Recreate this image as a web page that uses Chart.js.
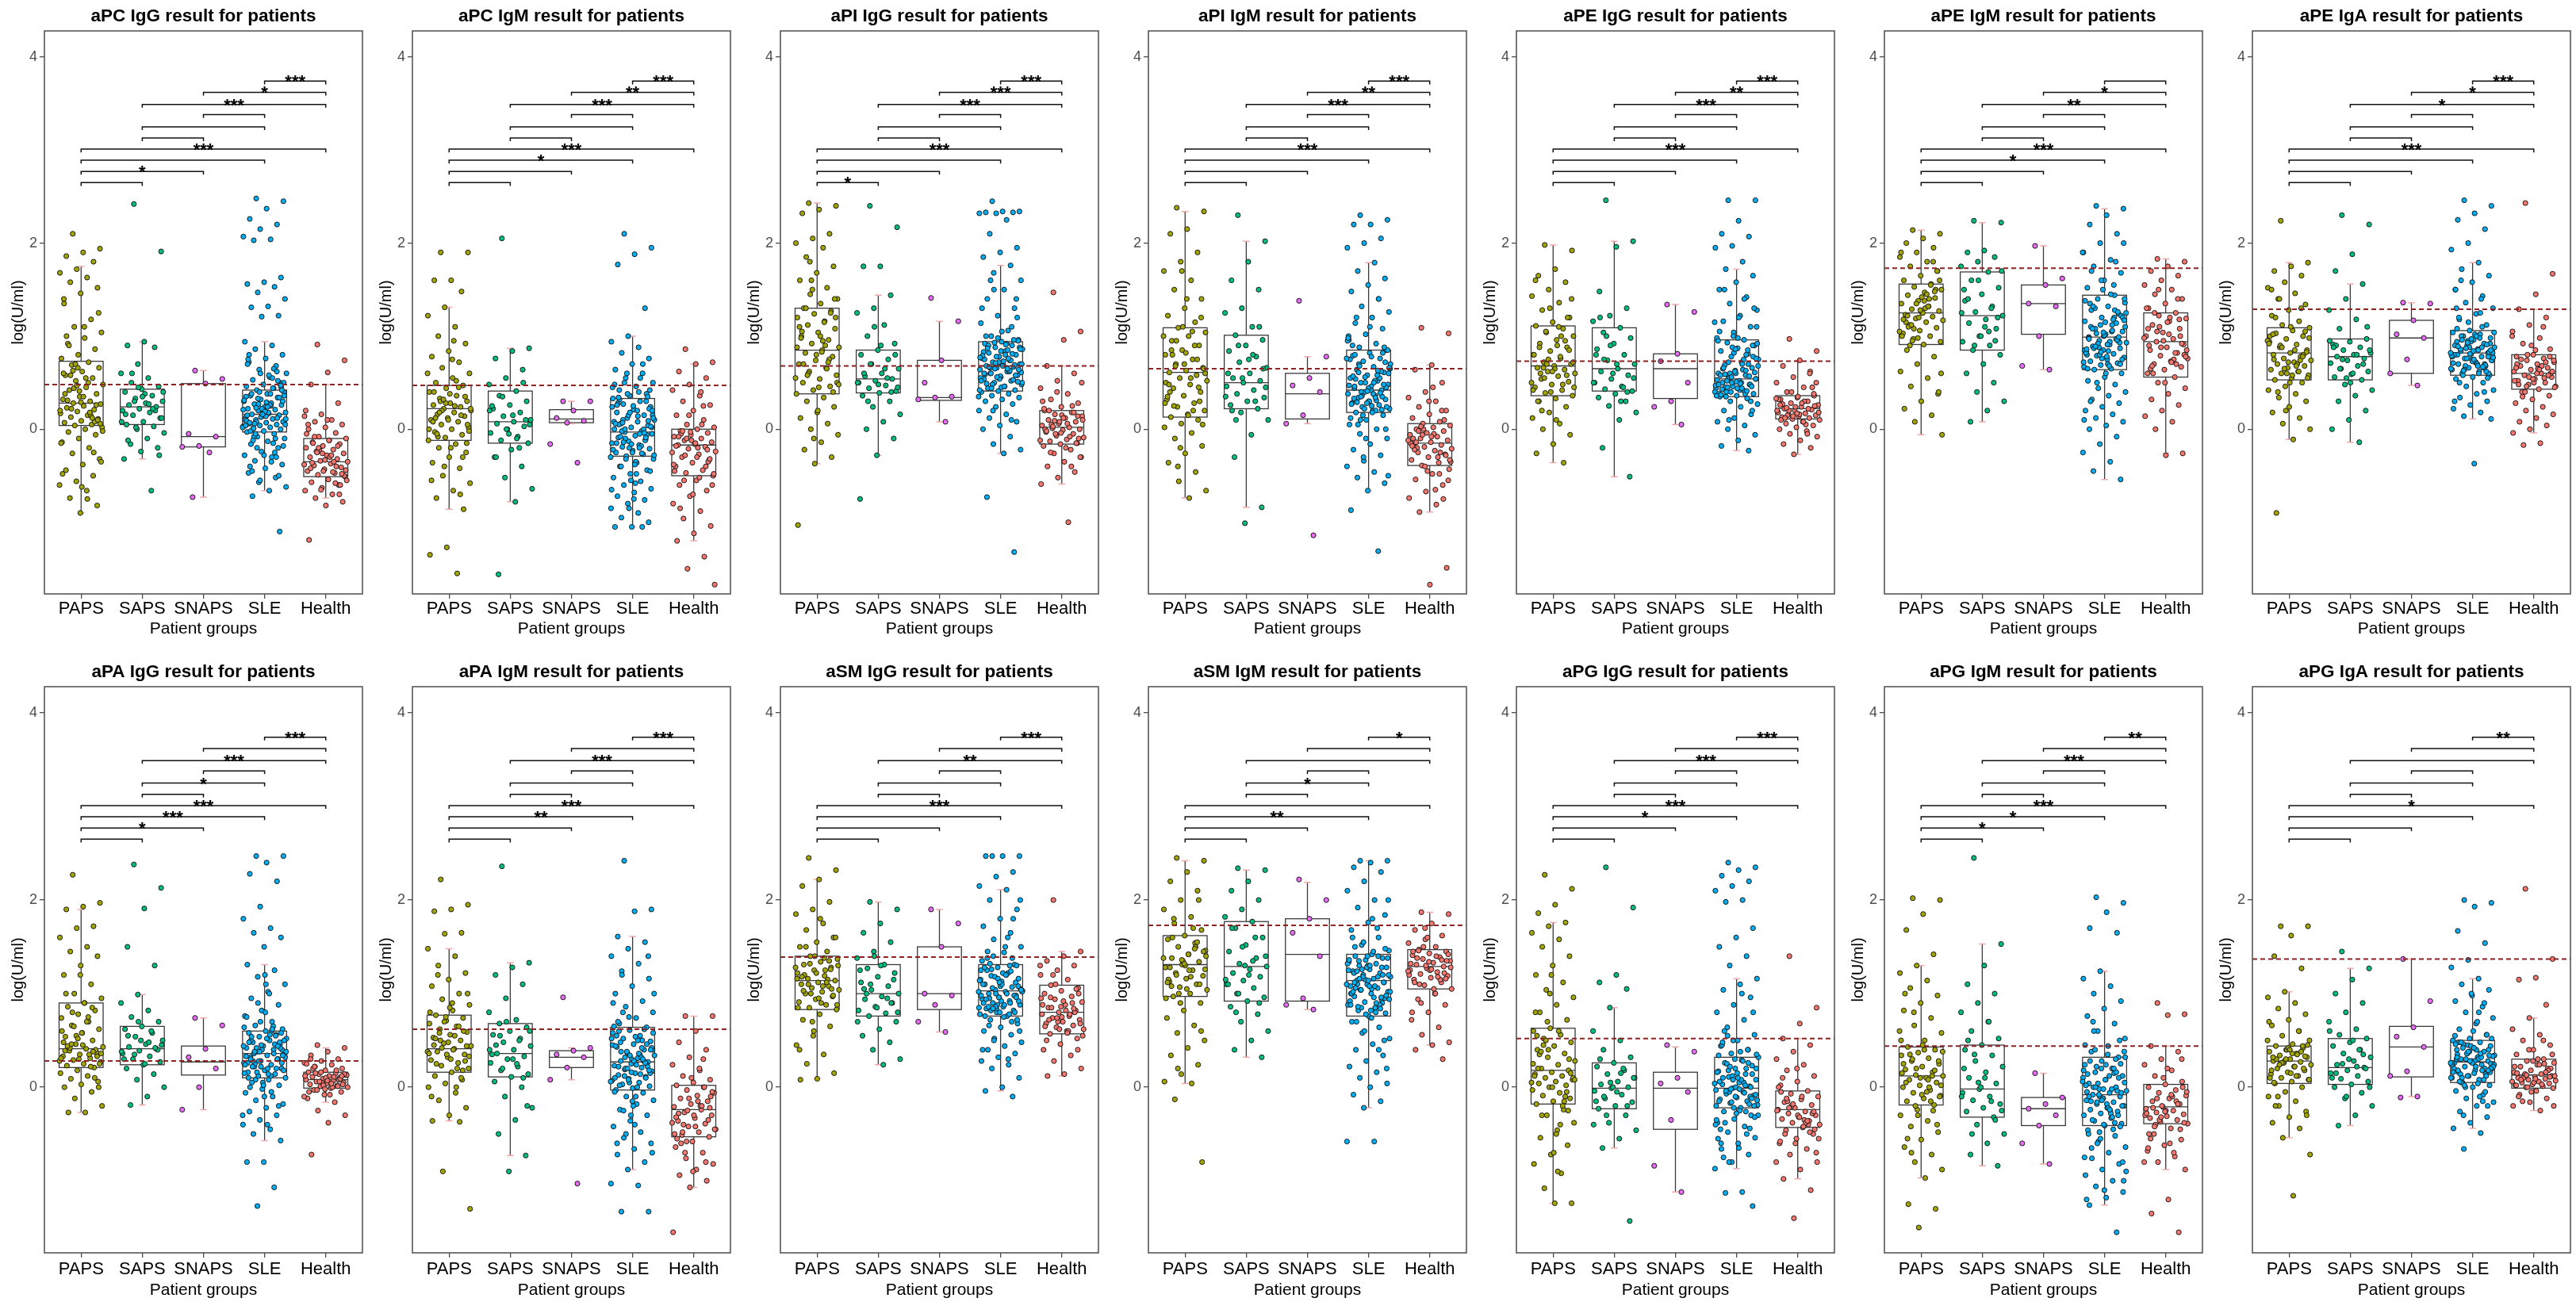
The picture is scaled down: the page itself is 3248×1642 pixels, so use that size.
<!DOCTYPE html>
<html><head><meta charset="utf-8">
<script src="https://cdn.jsdelivr.net/npm/chart.js@4.4.1/dist/chart.umd.min.js"></script>
<style>
html,body{margin:0;padding:0;background:#fff;overflow:hidden;}
#wrap{position:relative;width:3248px;height:1642px;background:#fff;}
.cell{position:absolute;width:464px;}
</style></head><body><div id="wrap"></div>
<script>
// ---------- categories / ticks ----------
const groups = ['PAPS','SAPS','SNAPS','SLE','Health'];
const groupColors = ['#A3A500','#00BF7D','#E76BF3','#00B0F6','#F8766D'];
const yTicks = [0,2,4];
const titles = ['aPC IgG result for patients','aPC IgM result for patients','aPI IgG result for patients','aPI IgM result for patients','aPE IgG result for patients','aPE IgM result for patients','aPE IgA result for patients',
                'aPA IgG result for patients','aPA IgM result for patients','aSM IgG result for patients','aSM IgM result for patients','aPG IgG result for patients','aPG IgM result for patients','aPG IgA result for patients'];
const cutoffs = [0.48,0.47,0.68,0.65,0.73,1.73,1.29, 0.28,0.62,1.39,1.73,0.52,0.44,1.37];
// comparison pairs (group indices) and the value level of each bracket
const pairs = [[0,1],[0,2],[0,3],[0,4],[1,2],[1,3],[2,3],[1,4],[2,4],[3,4]];
const bracketY = [2.65,2.77,2.89,3.01,3.13,3.25,3.38,3.49,3.62,3.74];
// significance labels per panel (same order as pairs)
const sig = [
 ['','*','','***','','','','***','*','***'],
 ['','','*','***','','','','***','**','***'],
 ['*','','','***','','','','***','***','***'],
 ['','','','***','','','','***','**','***'],
 ['','','','***','','','','***','**','***'],
 ['','','*','***','','','','**','*',''],
 ['','','','***','','','','*','*','***'],
 ['','*','***','***','','*','','***','','***'],
 ['','','**','***','','','','***','','***'],
 ['','','','***','','','','**','','***'],
 ['','','**','','','*','','','','*'],
 ['','','*','***','','','','***','','***'],
 ['','*','*','***','','','','***','','**'],
 ['','','','*','','','','','','**']
];
// box stats per panel: [lowWhisker, Q1, median, Q3, highWhisker] for each group
const boxes = [
 [[-0.90,0.04,0.28,0.73,1.75],[-0.32,0.05,0.24,0.43,0.94],[-0.73,-0.19,-0.08,0.49,0.63],[-0.66,-0.03,0.16,0.42,0.94],[-0.74,-0.51,-0.35,-0.10,0.48]],
 [[-0.86,-0.12,0.22,0.47,1.31],[-0.78,-0.15,0.08,0.41,0.87],[0.06,0.07,0.11,0.21,0.30],[-1.05,-0.29,-0.03,0.33,1.00],[-1.20,-0.50,-0.17,0.00,0.70]],
 [[-0.37,0.38,0.85,1.30,2.43],[-0.28,0.39,0.54,0.85,1.44],[0.08,0.31,0.34,0.74,1.16],[-0.26,0.41,0.68,0.94,1.76],[-0.59,-0.16,0.02,0.20,0.68]],
 [[-0.74,0.13,0.61,1.09,2.34],[-0.84,0.22,0.50,1.01,2.02],[0.06,0.11,0.38,0.60,0.78],[-0.66,0.18,0.42,0.85,1.79],[-0.89,-0.39,-0.15,0.06,0.69]],
 [[-0.36,0.36,0.68,1.11,1.98],[-0.51,0.41,0.65,1.09,2.02],[0.05,0.33,0.65,0.81,1.34],[-0.23,0.35,0.54,0.96,1.72],[-0.27,0.11,0.22,0.36,0.74]],
 [[-0.06,0.91,1.25,1.56,2.14],[0.08,0.85,1.22,1.69,2.22],[0.64,1.02,1.35,1.55,1.97],[-0.54,0.64,0.99,1.44,2.37],[-0.26,0.56,0.94,1.25,1.83]],
 [[-0.11,0.53,0.82,1.09,1.79],[-0.14,0.53,0.78,0.97,1.56],[0.47,0.60,0.98,1.17,1.36],[0.11,0.58,0.82,1.06,1.79],[-0.04,0.43,0.60,0.80,1.29]],
 [[-0.27,0.21,0.41,0.90,1.90],[-0.19,0.24,0.41,0.65,0.99],[-0.24,0.13,0.27,0.44,0.74],[-0.57,0.10,0.36,0.60,1.31],[-0.16,-0.01,0.08,0.16,0.42]],
 [[-0.36,0.16,0.41,0.77,1.48],[-0.73,0.11,0.36,0.68,1.33],[0.08,0.21,0.32,0.39,0.42],[-0.88,-0.03,0.27,0.64,1.61],[-1.07,-0.53,-0.24,0.02,0.76]],
 [[0.09,0.83,1.14,1.40,2.22],[0.24,0.76,1.00,1.31,1.98],[0.59,0.83,1.00,1.50,1.90],[-0.04,0.76,1.03,1.31,2.11],[0.12,0.57,0.80,1.09,1.45]],
 [[0.04,0.97,1.31,1.62,2.42],[0.32,0.92,1.29,1.77,2.32],[0.83,0.92,1.42,1.80,2.19],[-0.22,0.76,1.14,1.42,2.42],[0.45,1.05,1.29,1.47,1.87]],
 [[-1.24,-0.18,0.18,0.63,1.76],[-0.65,-0.23,-0.01,0.26,0.85],[-1.12,-0.45,-0.01,0.16,0.43],[-0.87,-0.22,-0.01,0.32,1.16],[-0.98,-0.43,-0.24,-0.04,0.52]],
 [[-0.97,-0.19,0.12,0.43,1.30],[-0.84,-0.32,-0.02,0.45,1.53],[-0.82,-0.41,-0.23,-0.11,0.15],[-1.26,-0.41,-0.08,0.32,1.24],[-0.88,-0.39,-0.21,0.03,0.44]],
 [[-0.54,0.04,0.28,0.44,1.02],[-0.41,0.03,0.21,0.52,1.27],[-0.10,0.11,0.43,0.65,1.37],[-0.44,0.05,0.27,0.50,1.16],[-0.25,-0.01,0.13,0.30,0.74]]
];
// ---------- individual measurements (log U/ml, in hundredths) : [PAPS, SAPS, SNAPS, SLE, Health] ----------
const pts_aPC_IgG = [
 [210,194,190,186,180,172,168,163,158,152,146,140,118,110,104,98,92,86,80,76,72,69,66,62,58,55,52,48,45,42,38,35,32,30,28,27,25,23,21,19,17,15,13,11,9,7,5,4,2,0,-3,-6,-10,-14,-20,-26,-32,-38,-44,-50,-56,-60,-66,-74,-82,-90,
  60,15,44,-35,110,31,8,66,-15,50,22,125,-62,38,12,70,-2,55,90,26,41,-48,18,63,6,35,100,-25,47,20,-75,58,10,29,135],
 [242,191,94,90,88,70,60,55,50,46,43,40,36,33,30,28,26,24,22,20,18,15,12,8,5,3,0,-4,-10,-16,-20,-24,-32,-66,
  30,12,38,-12,20,45,8,27,60,-28,35,16,22,2,40],
 [63,54,49,-5,-8,-18,-19,-25,-73],
 [248,245,237,226,220,215,207,204,203,163,158,156,153,147,140,132,131,122,121,94,90,86,80,76,72,68,64,60,56,53,50,48,46,44,42,40,38,36,34,32,30,28,27,26,24,22,21,20,18,17,16,15,14,12,11,10,8,7,6,5,4,3,2,1,0,-2,-3,-5,-8,-10,-13,-16,-20,-24,-28,-30,-34,-38,-42,-47,-52,-57,-62,-66,-72,-110,
  20,35,-15,8,50,28,-40,12,60,3,25,-8,45,15,70,-25,33,5,18,38,-50,22,10,55,-5,30,14,80,-30,40,2,26,-12,48,17,9,65,-20,36,24,-2,52,13,31,-35,6,42,19,75,-10,27,11,58,-45,34,16,4,44,23,-18,29,7,62,-55,21,38,1,47,-28,15],
 [91,74,61,48,28,16,14,10,8,5,2,0,-4,-8,-10,-12,-14,-16,-18,-20,-22,-24,-26,-28,-30,-32,-34,-35,-37,-39,-41,-43,-45,-47,-49,-51,-54,-57,-60,-63,-66,-70,-74,-78,-82,-119,
  -40,-22,-55,-30,-15,-60,-45,-5,-35,-25,-50,10,-42,-18,-65,-38,-28,-8,-48,-33,5,-58,-20,-44,-12,-36,-70,-26,20,-46]
];
const pts_aPC_IgM = [
 [190,190,160,160,148,131,122,110,100,92,84,78,72,66,60,55,50,47,44,40,36,33,30,28,26,24,22,20,18,16,14,12,10,8,5,2,0,-3,-6,-9,-12,-16,-20,-25,-30,-36,-42,-50,-58,-66,-74,-86,-127,-135,-155,
  30,5,-20,40,15,-40,60,25,-8,35,10,-55,45,20,-2,75,12,-30,28,0,52,18,-15,38,8,-70,32,22,95,-5],
 [205,87,84,76,64,55,48,41,36,30,26,22,18,14,10,8,6,3,0,-4,-8,-12,-15,-22,-30,-40,-52,-64,-78,-156,
  10,-5,25,-20,35,5,15,-30,50,0,20,-10],
 [30,30,20,12,9,7,-16,-36],
 [210,195,188,177,130,100,94,88,82,76,70,64,60,55,50,46,42,38,36,33,30,27,24,21,18,15,12,10,8,6,4,2,0,-2,-3,-5,-7,-9,-11,-13,-15,-17,-19,-21,-23,-25,-27,-29,-32,-36,-40,-44,-48,-52,-56,-60,-64,-68,-72,-76,-80,-85,-90,-95,-100,-105,-105,-105,
  -10,15,-35,5,30,-20,45,-5,10,-45,25,-15,0,60,-28,20,-8,35,-55,8,-18,50,2,-38,28,-12,15,-65,40,-2,22,-25,6,70,-32,12,-48,32,-6,18,-22,55,-14,3,-75,26,-4,38,-30,14,-40,9,-16,48,-26,0,20,-58,34,-9,-85,24,-20,7,42],
 [86,72,70,62,55,48,42,36,30,26,20,15,10,5,2,0,-2,-4,-6,-8,-10,-12,-14,-16,-17,-19,-21,-24,-27,-30,-33,-36,-40,-44,-47,-50,-55,-60,-66,-72,-80,-88,-96,-104,-112,-120,-137,-150,-167,
  -20,-5,-35,-12,-45,5,-28,-60,-15,-8,-40,15,-25,-52,-2,-32,-70,-18,25,-10,-48,-30,-85,-22,-3,-38,40,-55]
];
const pts_aPI_IgG = [
 [243,240,236,232,210,205,200,195,185,175,168,160,152,145,140,135,130,127,124,120,116,112,108,104,100,96,92,88,85,82,78,74,70,66,62,58,54,50,46,42,38,34,30,24,18,12,6,0,-6,-14,-22,-30,-37,-103,
  90,60,120,45,105,75,150,55,95,130,40,80,110,65,180,50,100,70,125,-10,88,115,58,140,20,98,72,160,48,83],
 [240,217,175,175,144,130,125,112,100,92,85,80,75,70,65,60,57,54,52,50,47,44,41,39,36,30,24,16,8,0,-10,-28,-75,
  55,70,45,90,60,40,110,50,65,30,80,48],
 [141,116,74,50,35,34,32,8],
 [245,234,234,233,233,232,232,225,210,195,190,185,176,168,160,150,140,130,122,114,106,100,96,94,92,90,88,86,84,82,80,78,76,74,72,70,69,68,67,66,64,62,60,58,56,54,52,50,48,46,44,42,41,40,38,36,34,32,30,27,24,20,16,12,8,4,0,-8,-16,-22,-26,-73,-132,
  70,55,85,60,95,45,75,110,65,50,80,90,58,72,130,62,48,88,68,100,53,78,42,92,66,120,57,83,74,150,61,46,87,69,98,52,76,44,64,105,59,81,71,35,91,67,140,54,79,63,20,86,73,49,96,56,77,65,160,51,84,60,10,93,70],
 [147,105,96,68,60,52,44,38,32,28,24,20,18,16,14,12,10,8,6,4,2,1,0,-1,-3,-5,-7,-9,-11,-13,-15,-16,-18,-22,-26,-30,-35,-40,-46,-52,-59,-100,
  5,-10,15,0,25,-5,10,-20,20,-15,8,30,-8,3,-30,12,-2,18,40,-12,6,-25,14,-4,22,-40,9,50]
];
const pts_aPI_IgM = [
 [238,234,215,210,190,180,170,160,150,140,130,122,115,109,104,100,95,90,85,80,75,70,66,63,61,58,55,52,48,44,40,36,32,28,24,20,16,13,10,6,2,-4,-10,-18,-26,-36,-46,-56,-66,-74,
  80,30,110,50,20,95,65,140,40,75,-20,100,55,25,120,70,35,90,-40,60,15,85,45,170,28,105,68,5,82,48],
 [230,202,180,160,150,130,125,110,101,96,90,84,78,72,66,60,55,52,50,46,42,38,34,30,26,22,18,10,-6,-30,-84,-101,
  60,30,90,45,75,20,110,55,35,80,10,65],
 [138,78,55,47,40,15,6,-114],
 [230,225,220,220,205,200,195,179,170,162,155,148,140,132,126,120,114,108,102,96,92,88,85,82,79,76,73,70,67,64,61,58,55,52,50,48,46,44,42,40,38,36,34,32,30,28,26,24,22,20,18,15,10,5,0,-5,-10,-16,-22,-28,-34,-40,-46,-52,-58,-66,-87,-131,
  40,60,25,80,35,50,100,20,70,45,30,90,55,15,65,38,120,48,28,75,58,10,85,42,33,62,22,95,52,5,72,44,27,140,36,66,18,54,82,-10,47,31,68,24,110,57,39,-30,76,50,29,88,41,12,63,35,-50,78,46,21,56,98,34,61,0],
 [109,103,69,64,50,40,34,30,24,20,16,12,8,6,4,2,0,-2,-4,-6,-8,-10,-12,-14,-15,-17,-19,-21,-23,-25,-27,-30,-33,-36,-39,-43,-48,-54,-60,-67,-74,-81,-89,-149,-167,
  -10,-25,0,-35,-5,-20,10,-45,-15,-30,3,-55,-8,-22,20,-40,-12,-65,-2,-28,30,-18,-48,-6,-33,45,-14,-75]
];
const pts_aPE_IgG = [
 [198,192,172,165,158,150,143,136,128,120,115,111,108,104,100,96,92,88,84,80,76,72,70,68,66,64,62,60,57,54,51,48,45,42,39,36,33,30,24,18,12,6,0,-6,-16,-26,-36,
  70,45,90,60,120,40,80,100,55,140,65,30,95,75,50,110,20,85,62,160,48,105,72,10,88,58,130,42,78,66],
 [246,202,196,148,130,122,116,109,104,98,92,86,80,74,70,65,62,58,54,50,46,43,41,38,34,30,25,18,10,-20,-51,
  60,80,45,100,55,70,120,40,90,50,30,75],
 [134,126,81,73,50,30,24,5],
 [246,246,224,210,207,197,195,180,172,165,158,150,142,135,128,122,116,110,104,98,96,93,90,87,84,81,78,75,72,69,66,63,60,58,56,54,52,50,48,46,44,42,40,38,36,35,33,30,27,24,20,16,12,8,4,0,-6,-12,-18,-23,
  50,40,70,45,90,60,38,80,55,110,42,65,48,100,36,75,52,130,44,58,85,40,68,50,150,46,62,95,38,72,54,120,43,57,88,47,64,35,78,51,105,41,60,92,49,66,30,82,53,140,45,61,98,37,70,56,115,44,59,20,86,48,63,10,76],
 [97,84,74,68,62,56,50,45,40,36,34,32,30,28,26,24,22,21,20,18,17,16,15,14,13,12,11,10,8,6,4,2,0,-2,-5,-8,-12,-16,-20,-27,
  20,30,15,25,35,10,22,40,18,28,12,45,24,32,5,20,50,16,27,60,14,33,8,23,38,17,26,-5]
];
const pts_aPE_IgM = [
 [214,210,205,200,195,190,185,180,175,170,165,160,156,153,150,147,144,141,138,135,132,129,127,125,123,121,119,117,115,112,109,106,103,100,97,94,91,85,78,70,62,55,46,38,30,22,15,8,-6,
  130,110,150,120,100,140,95,160,125,115,180,135,105,145,90,170,128,118,155,108,60,138,122,148,98,190,132,112,40,142],
 [224,222,192,190,185,180,175,169,160,152,145,138,132,126,122,118,114,108,100,94,90,85,80,70,60,50,40,30,20,8,
  120,100,150,130,90,170,110,140,95,160,125,105],
 [197,162,155,135,132,100,68,64],
 [240,237,230,220,210,200,190,182,175,168,160,152,144,140,136,132,128,124,120,116,112,108,105,102,99,97,95,93,91,89,87,85,83,81,79,77,75,73,71,69,67,65,64,60,56,52,48,44,40,36,32,28,24,20,16,12,8,4,0,-8,-16,-25,-35,-45,-54,
  100,80,120,90,140,70,110,95,160,85,105,130,75,115,98,180,88,125,68,108,93,150,82,118,103,200,78,135,96,112,72,145,87,122,101,65,128,92,110,84,170,99,76,138,106,89,120,60,97,114,80,190,94,132,70,104,86,155,50,117,91,30,126,83,10],
 [183,180,175,170,165,160,155,150,145,140,135,130,125,122,119,116,112,108,104,100,97,94,91,88,85,82,79,76,73,70,67,64,60,56,50,44,38,32,26,20,14,8,0,-26,-28,
  90,70,110,85,120,60,100,95,130,75,105,80,115,65,140,88,98,72,125,92,50,108,82,150,78,102,68,118]
];
const pts_aPE_IgA = [
 [224,179,175,170,165,158,152,146,140,134,128,122,116,112,109,106,103,100,97,94,91,88,85,82,80,78,76,74,72,70,68,66,64,62,60,58,55,53,50,46,42,38,34,30,24,18,12,6,0,-11,-90,
  80,60,100,70,90,55,110,75,130,65,95,85,40,105,72,150,62,88,98,58,120,78,20,92,68,140,83,50,102,74],
 [230,220,188,170,156,140,128,118,108,97,94,91,88,85,82,80,78,76,74,71,68,65,62,59,56,53,48,42,36,30,20,10,0,-14,
  75,85,60,90,70,55,95,80,65,110,50,88],
 [136,135,117,102,98,75,60,47],
 [246,240,232,225,215,200,193,179,172,165,158,150,143,136,130,124,118,112,106,104,102,100,98,96,94,92,90,88,86,84,82,81,80,78,76,74,72,70,68,66,64,62,60,58,56,54,50,46,42,38,34,30,26,22,18,14,11,-37,
  80,70,95,65,85,100,60,75,90,110,68,82,72,120,62,88,78,98,58,92,84,130,66,76,104,70,86,55,94,80,140,64,74,102,89,69,115,79,60,96,83,73,150,67,87,77,100,50,91,81,71,125,63,85,75,108,40,93,82,68,160,78,97,30,88],
 [243,167,145,129,120,112,105,98,92,86,80,78,76,74,72,70,68,66,64,62,60,58,56,54,52,50,48,46,43,40,36,32,28,24,20,16,12,8,4,0,-4,-15,-17,
  60,50,70,55,80,45,65,75,58,90,52,68,40,62,85,48,72,56,100,64,35,78,54,66,110,46,74,60]
];
const pts_aPA_IgG = [
 [227,197,193,190,172,170,160,150,145,140,130,120,110,100,95,90,86,82,78,74,70,66,62,58,54,50,46,43,41,39,37,35,33,31,29,27,25,23,21,18,15,12,9,6,3,0,-5,-12,-20,-27,-27,
  40,30,60,35,80,25,45,100,38,55,28,70,42,33,120,48,22,65,36,90,44,10,52,31,75,46,0,58,39,85],
 [238,213,191,150,130,99,90,82,75,70,65,62,58,54,50,46,43,41,39,36,33,30,27,24,20,14,8,0,-10,-19,
  40,50,30,60,35,45,25,55,42,70,38,48],
 [74,66,41,32,20,0,-24],
 [247,247,240,228,220,193,180,170,165,160,150,131,125,118,110,102,95,88,82,76,70,66,62,60,58,56,54,52,50,48,46,44,42,40,38,36,34,32,30,28,26,24,22,20,18,16,14,12,10,8,5,2,-2,-6,-10,-14,-18,-22,-26,-30,-35,-40,-45,-50,-57,-80,-80,-107,-127,
  35,20,50,30,45,15,60,25,40,80,10,55,28,38,100,22,48,5,33,65,42,18,52,0,30,70,44,12,36,58,-10,26,46,90,32,14,54,-20,40,24,62,8,34,110,48,20,38,-30,56,28,42,2,75,36,16,50,-40,30,44,22,64,-5,38,26,120],
 [45,42,38,34,30,28,26,24,22,20,18,16,15,14,13,12,11,10,9,8,7,6,5,4,3,2,1,0,-1,-3,-5,-8,-12,-16,-25,-30,-38,-72,
  8,5,12,0,15,3,10,-5,18,6,13,-8,20,9,2,25,11,-3,14,7,30,1,16,-10,4,22,12,-2]
];
const pts_aPA_IgM = [
 [222,195,190,188,165,164,148,140,130,122,115,108,100,94,88,82,77,74,71,68,65,62,59,56,53,50,47,44,41,38,35,32,29,26,23,20,16,12,8,4,0,-6,-14,-22,-30,-36,-37,-90,-130,
  40,25,60,35,80,20,50,100,30,45,10,70,38,55,120,28,48,-10,65,42,33,90,52,18,75,36,0,58,44,85],
 [236,133,128,120,110,95,80,72,68,64,60,56,52,48,44,40,36,33,30,26,22,18,14,11,6,0,-10,-22,-35,-50,-73,-90,
  35,50,20,60,30,45,10,70,40,25,55,-20],
 [96,42,39,35,32,21,8,-103],
 [242,190,188,161,155,148,140,132,124,116,108,100,92,86,80,74,68,64,61,58,55,52,49,46,43,40,37,34,31,28,27,25,23,21,19,17,15,13,11,9,7,5,3,1,-1,-3,-6,-10,-14,-18,-24,-30,-36,-42,-48,-54,-60,-66,-72,-80,-88,-103,-105,-133,-133,
  30,10,50,20,40,-10,60,25,5,45,35,80,15,-20,55,28,38,100,0,48,22,-30,65,32,12,42,-40,70,26,8,52,36,120,18,-15,44,30,-50,58,24,2,46,34,90,14,-25,40,28,-60,62,20,6,50,38,140,16,-5,42,32,-70,54,22,10,75],
 [76,76,60,48,40,32,24,18,12,8,5,2,0,-3,-6,-9,-12,-15,-18,-21,-24,-27,-30,-33,-36,-39,-42,-45,-48,-51,-53,-58,-64,-70,-76,-82,-88,-94,-100,-107,-155,
  -20,-40,-10,-30,-55,0,-25,-45,-15,-60,-35,10,-50,-20,-70,-5,-42,-28,-80,-12,-38,20,-48,-22,-90,-32,30,-58]
];
const pts_aSM_IgG = [
 [245,232,222,215,198,190,185,175,168,160,155,150,145,140,137,134,131,128,125,122,119,116,114,112,110,108,106,104,102,100,97,94,91,88,85,83,78,72,65,55,45,35,25,15,9,8,
  115,100,130,90,120,105,140,85,125,110,160,95,118,135,70,128,108,150,98,122,40,112,132,88,180,103,126,60,116,138],
 [198,190,175,165,155,145,138,131,127,122,118,112,108,104,100,97,94,90,86,82,79,76,70,62,55,48,40,30,24,
  100,115,85,125,95,110,80,130,105,90,140,70],
 [190,175,150,100,98,88,70,59],
 [247,247,247,247,230,225,215,211,200,190,180,172,165,158,150,144,138,131,128,125,122,119,116,113,110,107,104,103,102,100,98,96,94,92,90,88,86,84,82,80,78,76,72,68,64,60,56,52,48,44,40,36,32,28,24,20,10,0,-4,-10,
  100,85,120,95,130,80,110,90,140,105,75,125,98,88,115,160,82,108,92,128,70,118,102,150,86,112,96,135,78,106,60,122,94,180,84,114,100,132,72,108,90,124,50,104,88,145,80,116,98,30,126,92,110,76,138,86,102,120,66,96,112,40,130,84,200],
 [200,145,140,135,130,125,120,115,109,106,103,100,97,94,91,88,85,82,80,78,76,74,72,70,68,66,64,62,60,57,52,46,40,34,28,20,14,12,
  80,70,95,60,85,100,75,65,90,110,55,82,72,105,62,88,78,120,68,92,50,84,74,130,58,96,40,86]
];
const pts_aSM_IgM = [
 [245,242,230,220,210,200,190,182,175,168,162,158,154,150,146,142,138,134,131,128,125,122,119,116,113,110,107,104,100,97,90,82,74,66,58,50,42,34,24,14,6,4,-13,-80,
  130,115,150,100,140,125,160,110,135,95,170,120,145,105,128,155,90,138,118,180,60,132,112,148,20,126,142,108,200,136],
 [234,232,220,210,200,190,182,177,170,160,152,145,138,132,129,126,122,118,114,110,106,100,96,92,86,78,70,60,50,40,32,
  130,110,160,100,140,120,170,90,150,115,135,80],
 [222,200,180,165,140,95,88,83],
 [242,242,240,235,230,220,210,200,192,184,176,168,160,152,146,142,140,138,136,134,132,130,128,126,124,122,120,118,116,114,112,110,108,106,104,102,100,97,94,91,88,85,82,79,76,70,64,58,52,46,40,34,28,22,16,10,4,0,-8,-15,-22,-58,-58,
  110,95,130,100,140,85,120,105,150,90,115,125,80,135,98,108,160,88,118,102,145,70,112,128,92,170,104,138,82,122,96,60,132,108,86,148,114,100,40,126,94,180,106,120,78,136,90,116,20,130,102,84,155,110,96,124,50,140,88,118,104,200,74,112,128],
 [187,185,175,168,162,158,154,150,147,145,143,141,139,137,135,133,131,129,127,125,123,121,119,117,115,112,109,105,100,94,88,80,72,64,56,48,45,40,30,
  130,120,140,110,135,125,145,115,150,128,105,138,122,160,132,118,90,142,126,112,136,170,124,100,146,116,134,80]
];
const pts_aPG_IgG = [
 [227,212,195,186,176,172,165,158,150,140,130,120,112,104,96,88,80,72,63,60,56,52,48,44,40,36,32,28,24,20,18,16,14,12,10,8,6,4,2,0,-3,-6,-9,-12,-15,-18,-24,-30,-38,-46,-54,-62,-72,-82,-92,-108,-124,-124,
  20,-10,40,5,60,-30,30,0,80,-20,50,10,-50,35,-5,100,25,-40,45,15,-70,55,-15,70,8,-90,38,-25,120,12],
 [235,192,120,112,105,85,60,50,40,32,26,22,18,14,10,6,3,0,-1,-4,-8,-12,-16,-20,-23,-30,-38,-46,-55,-65,-143,
  0,-15,20,-30,10,-5,30,-20,5,-40,15,-10],
 [45,38,10,4,-5,-35,-84,-112],
 [240,235,232,226,220,215,210,200,198,170,160,150,140,130,116,110,104,96,88,80,72,64,56,50,44,40,36,32,29,26,23,20,17,14,11,8,5,3,1,-1,-3,-5,-7,-9,-11,-13,-15,-17,-19,-22,-26,-30,-34,-38,-42,-48,-54,-60,-66,-72,-80,-87,-112,-113,-127,
  0,-15,20,-5,35,-25,10,-10,50,-35,5,25,-20,15,-45,40,-2,-30,8,60,-12,30,-55,2,18,-8,-65,45,-18,12,-40,28,-4,80,-28,6,-50,22,-14,38,-75,0,-22,16,-6,55,-32,10,-60,26,-16,4,100,-38,14,-10,34,-26,-80,20,-2,48,-44,8,-20],
 [140,85,68,52,45,38,30,24,18,12,6,2,-4,-7,-10,-13,-16,-19,-22,-24,-26,-28,-30,-32,-34,-36,-38,-40,-43,-46,-50,-55,-60,-66,-72,-80,-88,-98,-110,-140,
  -25,-35,-15,-45,-30,-5,-40,-20,-55,-10,-50,-28,-60,0,-38,-22,-70,-32,10,-48,-18,-80,-42,-12,-26,20,-58,-36]
];
const pts_aPG_IgM = [
 [202,200,185,168,142,130,122,114,106,98,90,82,74,66,58,50,43,40,37,34,31,28,25,22,19,16,13,12,10,8,5,2,0,-3,-6,-9,-12,-15,-19,-24,-30,-36,-42,-48,-56,-64,-72,-80,-88,-97,-125,-130,-150,
  15,0,30,-10,45,5,-25,20,60,-5,35,-40,10,25,-15,80,2,40,-55,18,-30,50,8,-70,28,-8,100,12,-20,38],
 [245,153,130,110,100,90,80,70,60,52,45,40,34,28,22,16,10,4,-2,-6,-10,-14,-18,-22,-26,-32,-40,-50,-60,-72,-84,
  0,20,-15,35,-25,10,50,-35,5,-10,70,-50],
 [15,-11,-18,-23,-30,-41,-60,-82],
 [203,197,187,170,165,124,116,108,100,92,84,76,68,60,52,44,38,32,28,24,20,16,12,8,4,0,-2,-4,-6,-8,-10,-12,-14,-16,-18,-20,-22,-24,-26,-28,-30,-33,-36,-39,-41,-46,-52,-58,-64,-70,-76,-82,-88,-94,-100,-106,-112,-118,-126,-155,
  -10,10,-25,0,25,-40,-5,15,-60,5,35,-15,-30,20,-75,-2,40,-20,8,-50,30,-8,-90,12,-35,50,-12,2,-45,22,-100,-18,28,-4,-55,18,-28,60,-6,-110,14,-38,4,32,-22,-65,10,-14,45,-32,0,-80,24,-10,16,-48,6,-24,70,-42,-2,-120,20,-16,38],
 [90,78,77,44,38,30,24,18,12,6,3,0,-3,-6,-9,-12,-15,-18,-21,-23,-25,-27,-29,-31,-33,-35,-37,-39,-44,-50,-56,-62,-68,-74,-80,-88,-120,-135,-155,
  -20,-30,-10,-40,0,-25,-50,-15,-35,-5,-60,-22,-45,10,-28,-70,-12,-38,20,-55,-18,-32,-80,-8,-42,30,-26,-65]
];
const pts_aPG_IgA = [
 [172,172,162,140,127,102,96,90,84,78,72,66,60,55,50,46,44,42,40,38,36,34,32,30,28,27,26,24,22,20,18,16,14,12,10,8,6,4,0,-5,-10,-15,-20,-26,-32,-38,-44,-54,-72,-116,
  30,20,40,10,35,25,45,15,5,38,28,50,22,-10,33,42,18,60,26,8,36,-20,44,30,70,12,24,-30,40,32],
 [145,127,115,100,90,80,70,62,56,52,48,44,40,36,32,28,24,21,18,15,12,9,6,3,0,-6,-12,-20,-30,-41,
  20,30,10,40,25,0,50,15,35,-10,60,22],
 [137,92,64,54,43,17,12,-10,-11],
 [200,197,193,167,154,136,128,116,110,104,98,92,86,80,74,68,62,56,52,50,48,46,44,42,40,38,36,34,32,30,28,27,26,24,22,20,18,16,14,12,10,8,5,2,0,-4,-8,-12,-16,-20,-26,-32,-38,-44,-49,-66,
  25,15,35,20,45,10,30,5,40,28,55,18,0,33,22,48,12,38,26,-10,42,16,60,30,8,36,24,70,14,-20,44,20,32,2,52,28,18,-5,38,24,80,10,34,26,46,-15,30,22,40,6,56,28,16,36,-30,20,42,32,90,12,26,4,48,18,100],
 [212,137,117,115,88,74,62,56,50,45,40,35,30,28,26,24,22,20,18,16,14,13,12,11,10,9,8,7,6,5,4,3,2,1,0,-1,-4,-8,-12,-16,-20,-25,
  10,20,5,15,25,0,12,30,8,18,-5,22,3,14,35,9,-10,16,40,6,24,-15,11,28,2,50,13,-20]
];
const points = [pts_aPC_IgG,pts_aPC_IgM,pts_aPI_IgG,pts_aPI_IgM,pts_aPE_IgG,pts_aPE_IgM,pts_aPE_IgA,
                pts_aPA_IgG,pts_aPA_IgM,pts_aSM_IgG,pts_aSM_IgM,pts_aPG_IgG,pts_aPG_IgM,pts_aPG_IgA];

// ---------- styling / layout ----------
const FONT = "'Liberation Sans', Arial, Helvetica, sans-serif";
Chart.defaults.font.family = FONT;
const Y_MIN = -1.77, Y_MAX = 4.28;
const BOX_HALF = 0.36, CAP_HALF = 0.055, JITTER = 0.72;
const rows = [
  {top:0,   height:821, xh:72, xtp:0, xtb:15},
  {top:827, height:815, xh:62, xtp:2, xtb:2}
];
function jit(k){ return (((k*0.6180339887 + 0.31) % 1) - 0.5) * JITTER; }

function makeDeco(pi){
  return {
    id:'deco'+pi,
    beforeDatasetsDraw(chart){
      const {ctx, scales:{x,y}} = chart;
      ctx.save();
      boxes[pi].forEach((b,gi)=>{
        const [lo,q1,md,q3,hi] = b;
        const xc = x.getPixelForValue(gi);
        const hw = x.getPixelForValue(gi+BOX_HALF)-xc;
        const cw = x.getPixelForValue(gi+CAP_HALF)-xc;
        const yl=y.getPixelForValue(lo), y1=y.getPixelForValue(q1), ym=y.getPixelForValue(md), y3=y.getPixelForValue(q3), yh=y.getPixelForValue(hi);
        ctx.strokeStyle='#3a3a3a'; ctx.lineWidth=1.3;
        ctx.beginPath();
        ctx.moveTo(xc,y3); ctx.lineTo(xc,yh);
        ctx.moveTo(xc,y1); ctx.lineTo(xc,yl);
        ctx.stroke();
        ctx.strokeRect(xc-hw,y3,2*hw,y1-y3);
        ctx.beginPath(); ctx.moveTo(xc-hw,ym); ctx.lineTo(xc+hw,ym); ctx.stroke();
        ctx.strokeStyle='#F0A8A8'; ctx.lineWidth=1.5;
        ctx.beginPath();
        ctx.moveTo(xc-cw,yh); ctx.lineTo(xc+cw,yh);
        ctx.moveTo(xc-cw,yl); ctx.lineTo(xc+cw,yl);
        ctx.stroke();
      });
      ctx.restore();
    },
    afterDatasetsDraw(chart){
      const {ctx, chartArea:a, scales:{x,y}} = chart;
      ctx.save();
      // cutoff line
      const yc = y.getPixelForValue(cutoffs[pi]);
      ctx.strokeStyle='#8E2323'; ctx.lineWidth=2; ctx.setLineDash([6,4]);
      ctx.beginPath(); ctx.moveTo(a.left,yc); ctx.lineTo(a.right,yc); ctx.stroke();
      ctx.setLineDash([]);
      // significance brackets
      ctx.strokeStyle='#111'; ctx.lineWidth=1.5; ctx.fillStyle='#000';
      ctx.font = 'bold 22px '+FONT; ctx.textAlign='center'; ctx.textBaseline='alphabetic';
      pairs.forEach((pr,k)=>{
        const x1=x.getPixelForValue(pr[0]), x2=x.getPixelForValue(pr[1]);
        const py=y.getPixelForValue(bracketY[k]);
        const tip=y.getPixelForValue(bracketY[k]-0.035)-py;
        ctx.beginPath(); ctx.moveTo(x1,py+tip); ctx.lineTo(x1,py); ctx.lineTo(x2,py); ctx.lineTo(x2,py+tip); ctx.stroke();
        const t=sig[pi][k];
        if(t) ctx.fillText(t,(x1+x2)/2,py+8);
      });
      // panel frame
      ctx.strokeStyle='#4d4d4d'; ctx.lineWidth=1.5;
      ctx.strokeRect(a.left,a.top,a.right-a.left,a.bottom-a.top);
      ctx.restore();
    }
  };
}

const wrap=document.getElementById('wrap');
titles.forEach((t,pi)=>{
  const row = pi<7?0:1, col = pi%7, rc = rows[row];
  const cell=document.createElement('div');
  cell.className='cell';
  cell.style.left=(col*464)+'px'; cell.style.top=rc.top+'px'; cell.style.height=rc.height+'px';
  const cv=document.createElement('canvas');
  cv.width=464; cv.height=rc.height;
  cv.style.width='464px'; cv.style.height=rc.height+'px';
  cell.appendChild(cv); wrap.appendChild(cell);
  new Chart(cv,{
    type:'scatter',
    data:{datasets: groups.map((g,gi)=>({
      label:g,
      data: points[pi][gi].map((v,k)=>({x: gi+jit(k), y: v/100})),
      backgroundColor: groupColors[gi], borderColor:'#1a1a1a', borderWidth:1,
      pointRadius:3.1, pointHoverRadius:3.1
    }))},
    options:{
      responsive:false, animation:false, events:[],
      layout:{padding:{left:0,right:7,top:0,bottom:0}},
      plugins:{
        legend:{display:false}, tooltip:{enabled:false},
        title:{display:true, text:t, fullSize:false, color:'#000', font:{size:22.5, weight:'bold'}, padding:{top:7,bottom:5}}
      },
      scales:{
        x:{type:'linear', min:-0.6, max:4.6,
           afterBuildTicks:s=>{ s.ticks = groups.map((_,i)=>({value:i})); },
           afterFit:s=>{ s.height = rc.xh; },
           ticks:{autoSkip:false, minRotation:0, maxRotation:0, color:'#000', font:{size:22}, padding:rc.xtp, callback:v=>groups[v]},
           grid:{display:true, drawOnChartArea:false, drawTicks:true, tickLength:6, color:'#4d4d4d', lineWidth:1.3},
           border:{display:false},
           title:{display:true, text:'Patient groups', color:'#000', font:{size:21}, padding:{top:0,bottom:rc.xtb}}
        },
        y:{type:'linear', min:Y_MIN, max:Y_MAX,
           afterBuildTicks:s=>{ s.ticks = yTicks.map(v=>({value:v})); },
           afterFit:s=>{ s.width = 56; },
           ticks:{color:'#4D4D4D', font:{size:18}, padding:3, callback:v=>String(v)},
           grid:{display:true, drawOnChartArea:false, drawTicks:true, tickLength:6, color:'#4d4d4d', lineWidth:1.3},
           border:{display:false},
           title:{display:true, text:'log(U/ml)', color:'#000', font:{size:20}, padding:{top:11,bottom:0}}
        }
      }
    },
    plugins:[makeDeco(pi)]
  });
});
</script></body></html>
